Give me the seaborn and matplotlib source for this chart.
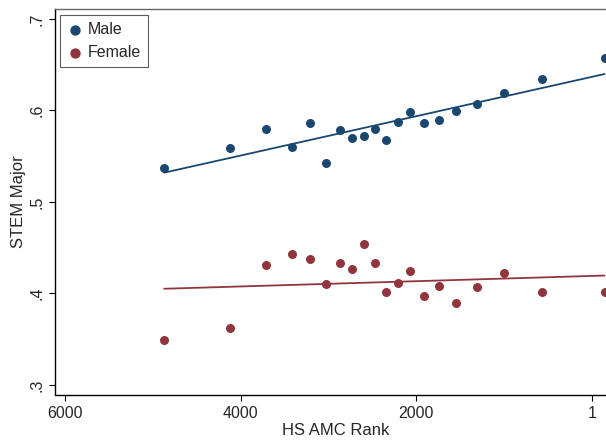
import numpy as np
import pandas as pd
import matplotlib
matplotlib.use("Agg")
import matplotlib.pyplot as plt
import seaborn as sns

# binned means (binscatter style)
rank_bins = [4870, 4120, 3710, 3420, 3210, 3030, 2870, 2735, 2600, 2470,
             2340, 2210, 2070, 1915, 1745, 1550, 1310, 1000, 570, -145]
male_stem = [0.5375, 0.559, 0.5795, 0.560, 0.5867, 0.5423, 0.5784, 0.5703,
             0.5718, 0.5795, 0.5678, 0.5874, 0.598, 0.586, 0.5893, 0.5998,
             0.6074, 0.6195, 0.6341, 0.657]
female_stem = [0.3492, 0.362, 0.4308, 0.4435, 0.4374, 0.4107, 0.4333, 0.4264,
               0.4538, 0.4333, 0.4013, 0.4115, 0.4249, 0.3976, 0.4082, 0.3896,
               0.4071, 0.4221, 0.402, 0.402]

x_ticks = [6000, 4000, 2000, 1]
y_ticks = [0.3, 0.4, 0.5, 0.6, 0.7]
y_tick_labels = [".3", ".4", ".5", ".6", ".7"]

NAVY = "#1a476f"
MAROON = "#90353b"

sns.set_style("white")
plt.rcParams["font.family"] = ["Liberation Sans", "DejaVu Sans"]

df = pd.DataFrame({"rank": rank_bins, "male": male_stem, "female": female_stem})

fig = plt.figure(figsize=(6.06, 4.4), dpi=100)
ax = fig.add_axes([55.3 / 606, 45.5 / 440, 560.4 / 606, 385.5 / 440])

for col, color, lab in [("male", NAVY, "Male"), ("female", MAROON, "Female")]:
    sns.regplot(data=df, x="rank", y=col, ax=ax, ci=None, truncate=True,
                color=color, label=lab,
                scatter_kws={"s": 42, "linewidths": 0, "alpha": 1},
                line_kws={"linewidth": 1.3})

ax.set_xlim(6110, -272)
ax.set_ylim(0.2896, 0.7109)
ax.set_xticks(x_ticks)
ax.set_xticklabels([str(t) for t in x_ticks])
ax.set_yticks(y_ticks)
ax.set_yticklabels(y_tick_labels, rotation=90, va="center")

ax.tick_params(axis="both", direction="out", length=4, width=0.8,
               color="black", labelsize=11.5, pad=4, left=True, bottom=True)
ax.set_xlabel("HS AMC Rank", fontsize=12, labelpad=2)
ax.set_ylabel("STEM Major", fontsize=12, labelpad=2)

for side in ["left", "bottom"]:
    ax.spines[side].set_color("black")
    ax.spines[side].set_linewidth(1.0)
ax.spines["top"].set_color("#666666")
ax.spines["top"].set_linewidth(1.0)
ax.spines["right"].set_visible(False)

leg = ax.legend(loc="upper left", bbox_to_anchor=(0.0084, 0.9844),
                borderaxespad=0, fontsize=11.5, frameon=True, fancybox=False,
                edgecolor="#333333", handletextpad=0.3, labelspacing=0.5,
                borderpad=0.45, handlelength=1.0, markerscale=1.15)
leg.get_frame().set_linewidth(0.8)

plt.savefig("out.png", dpi=100)
plt.close()
